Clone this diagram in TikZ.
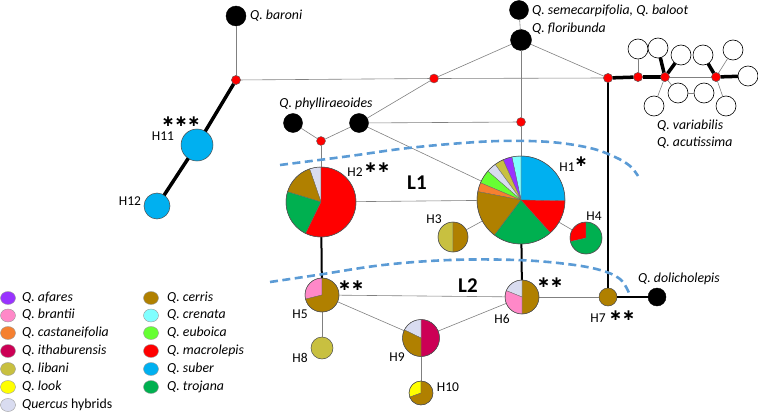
\documentclass[tikz,border=0pt]{standalone}
\usepackage{fontspec}
\setmainfont{Carlito}
\newfontfamily\symf{DejaVu Sans}
\usetikzlibrary{shapes.geometric}
\definecolor{cafares}{RGB}{153,51,255}
\definecolor{cbrantii}{RGB}{255,136,200}
\definecolor{ccast}{RGB}{245,128,48}
\definecolor{citha}{RGB}{204,0,85}
\definecolor{clibani}{RGB}{200,192,64}
\definecolor{clook}{RGB}{255,255,0}
\definecolor{chyb}{RGB}{217,220,240}
\definecolor{ccerris}{RGB}{176,128,0}
\definecolor{ccrenata}{RGB}{128,255,255}
\definecolor{ceuboica}{RGB}{102,255,51}
\definecolor{cmacro}{RGB}{255,0,0}
\definecolor{csuber}{RGB}{0,176,240}
\definecolor{ctrojana}{RGB}{0,176,80}
\definecolor{dashblue}{RGB}{91,155,213}
\newcommand\wedgeof[5]{\filldraw[#5,draw=black!60,line width=0.3pt] (#1.center) -- ++(#2:#4) arc[start angle=#2,end angle=#3,radius=#4] -- cycle;}
\newcommand\rimof[2]{\draw[black!70,line width=0.5pt] (#1.center) circle[radius=#2];}
\begin{document}
\begin{tikzpicture}[x=1pt,y=1pt,
  hap/.style={circle,inner sep=0pt,outer sep=0pt,minimum size=#1},
  blk/.style={circle,fill=black,draw=black,inner sep=0pt,outer sep=0pt,minimum size=20pt},
  rdot/.style={circle,fill=red,draw=black!60,line width=0.4pt,inner sep=0pt,outer sep=0pt,minimum size=9pt},
  wht/.style={circle,fill=white,draw=black,line width=0.6pt,inner sep=0pt,outer sep=0pt,minimum size=20pt},
  one/.style={circle,draw=black!70,line width=0.5pt,inner sep=0pt,outer sep=0pt},
  ln/.style={draw=black!50,line width=0.6pt},
  thk/.style={draw=black,line width=3.5pt},
  med/.style={draw=black,line width=2pt},
  lbl/.style={font=\fontsize{13.8}{16}\selectfont,inner sep=0pt,text height=9.5pt,text depth=3pt},
  ilbl/.style={lbl,font=\fontsize{13.8}{16}\selectfont\itshape},
  hlbl/.style={font=\fontsize{13.5}{15}\selectfont,inner sep=0pt},
  ast/.style={font=\symf\bfseries\fontsize{15.5}{15.5}\selectfont,inner sep=0pt},
  big/.style={font=\fontsize{21}{22}\selectfont\bfseries,inner sep=0pt},
  lg/.style={ellipse,draw=black!40,line width=0.4pt,minimum width=15pt,minimum height=13pt,inner sep=0pt},
  dsh/.style={draw=dashblue,line width=2.6pt,dash pattern=on 8pt off 4.5pt}]
\useasboundingbox (0,0) rectangle (758,-412);

% ---------- nodes ----------
\node[blk] (baroni) at (236,-16) {};
\node[rdot] (rA) at (236,-80) {};
\node[blk,minimum size=19pt] (semec) at (519,-10) {};
\node[blk,minimum size=21pt] (flori) at (521,-40) {};
\node[rdot] (rB) at (434,-78.5) {};
\node[rdot] (rC) at (521,-122) {};
\node[rdot] (rD) at (608,-78) {};
\node[rdot] (rE) at (638,-77) {};
\node[rdot] (rF) at (665,-77) {};
\node[rdot] (rG) at (716,-77) {};
\node[blk,minimum size=19pt] (phy1) at (293,-123) {};
\node[blk,minimum size=19pt] (phy2) at (359,-123) {};
\node[rdot] (rP) at (321,-141) {};
\node[wht] (w1) at (638,-49) {};
\node[wht] (w2) at (658,-48) {};
\node[wht] (w3) at (681,-55) {};
\node[wht] (w4) at (703,-55) {};
\node[wht] (w5) at (733,-50) {};
\node[wht] (w6) at (748,-76) {};
\node[wht] (w7) at (678,-93) {};
\node[wht] (w8) at (704,-93) {};
\node[wht] (w9) at (654,-106) {};
\node[wht] (w10) at (726,-106) {};
\node[hap=88pt] (H1) at (521,-200) {};
\node[hap=70pt] (H2) at (321,-202) {};
\node[hap=30pt] (H3) at (453,-237) {};
\node[hap=32pt] (H4) at (586,-238) {};
\node[hap=34pt] (H5) at (322,-295) {};
\node[hap=34pt] (H6) at (522,-297) {};
\node[one,fill=ccerris,minimum size=18pt] (H7) at (608,-297) {};
\node[blk,minimum size=18pt] (dol) at (657,-297) {};
\node[one,fill=clibani,minimum size=22pt] (H8) at (322,-348) {};
\node[hap=37pt] (H9) at (421,-338) {};
\node[hap=24pt] (H10) at (421,-393) {};
\node[one,fill=csuber,minimum size=32pt] (H11) at (197,-145) {};
\node[one,fill=csuber,minimum size=26pt] (H12) at (157,-206) {};

% ---------- edges ----------
\draw[ln] (baroni) -- (rA);
\draw[ln] (rA) -- (rB);
\draw[ln] (rB) -- (rD);
\draw[ln] (semec) -- (flori);
\draw[ln] (flori) -- (rB);
\draw[ln] (flori) -- (rD);
\draw[ln] (flori) -- (rC);
\draw[ln] (rC) -- (H1);
\draw[ln] (rB) -- (phy2);
\draw[ln] (phy2) -- (rC);
\draw[ln] (phy2) -- (H1);
\draw[ln] (phy1) -- (rP);
\draw[ln] (phy2) -- (rP);
\draw[ln] (rP) -- (H2);
\draw[ln] (H2) -- (H1);
\draw[ln] (H1) -- (H3);
\draw[ln] (H1) -- (H4);
\draw[ln] (H5) -- (H6);
\draw[ln] (H6) -- (H7);
\draw[ln] (H5) -- (H8);
\draw[ln] (H5) -- (H9);
\draw[ln] (H9) -- (H6);
\draw[ln] (H9) -- (H10);
\draw[ln] (rE) -- (w1);
\draw[ln] (rF) -- (w9);
\draw[ln] (rF) -- (w7);
\draw[ln] (w7) -- (w8);
\draw[ln] (rG) -- (w5);
\draw[ln] (rG) -- (w10);
\draw[ln] (rF) -- (rG);
\draw[thk] (rA) -- (H11);
\draw[thk] (H11) -- (H12);
\draw[thk] (rD) -- (rE);
\draw[thk] (rE) -- (rF);
\draw[thk] (rF) -- (w2);
\draw[thk] (rF) -- (w3);
\draw[thk] (rG) -- (w4);
\draw[thk] (rG) -- (w6);
\draw[med] (H2) -- (H5);
\draw[med] (H1) -- (H6);
\draw[med] (rD) -- (H7);
\draw[med] (H7) -- (dol);
% redraw small nodes over thick lines
\node[rdot] at (rD) {};
\node[rdot] at (rE) {};
\node[rdot] at (rF) {};
\node[rdot] at (rG) {};
\node[rdot] at (rA) {};

% ---------- pies ----------
\wedgeof{H1}{-1}{90}{44pt}{csuber}
\wedgeof{H1}{90}{102}{44pt}{ccrenata}
\wedgeof{H1}{102}{114}{44pt}{cafares}
\wedgeof{H1}{114}{126}{44pt}{clibani}
\wedgeof{H1}{126}{139}{44pt}{chyb}
\wedgeof{H1}{139}{157}{44pt}{ceuboica}
\wedgeof{H1}{157}{169}{44pt}{ccast}
\wedgeof{H1}{169}{233}{44pt}{ccerris}
\wedgeof{H1}{233}{312}{44pt}{ctrojana}
\wedgeof{H1}{312}{359}{44pt}{cmacro}
\rimof{H1}{44pt}
\wedgeof{H2}{90}{109}{35pt}{chyb}
\wedgeof{H2}{109}{163}{35pt}{ccerris}
\wedgeof{H2}{163}{244}{35pt}{ctrojana}
\wedgeof{H2}{244}{450}{35pt}{cmacro}
\rimof{H2}{35pt}
\wedgeof{H3}{90}{270}{15pt}{clibani}
\wedgeof{H3}{-90}{90}{15pt}{ccerris}
\rimof{H3}{15pt}
\wedgeof{H4}{90}{193}{16pt}{cmacro}
\wedgeof{H4}{193}{450}{16pt}{ctrojana}
\rimof{H4}{16pt}
\wedgeof{H5}{90}{194}{17pt}{cbrantii}
\wedgeof{H5}{194}{450}{17pt}{ccerris}
\rimof{H5}{17pt}
\wedgeof{H6}{-90}{90}{17pt}{ccerris}
\wedgeof{H6}{90}{158}{17pt}{chyb}
\wedgeof{H6}{158}{270}{17pt}{cbrantii}
\rimof{H6}{17pt}
\wedgeof{H9}{-90}{90}{18.5pt}{citha}
\wedgeof{H9}{90}{154}{18.5pt}{chyb}
\wedgeof{H9}{154}{270}{18.5pt}{ccerris}
\rimof{H9}{18.5pt}
\wedgeof{H10}{90}{200}{12pt}{clook}
\wedgeof{H10}{200}{450}{12pt}{ccerris}
\rimof{H10}{12pt}

% ---------- dashed lineage curves ----------
\draw[dsh] plot[smooth,tension=0.6] coordinates {(280,-165) (350,-156) (400,-149) (450,-144) (500,-141) (550,-142) (590,-148) (615,-157) (630,-166) (638,-176)};
\draw[dsh] plot[smooth,tension=0.6] coordinates {(270,-282) (317,-275) (383,-265) (450,-260) (517,-260) (567,-264) (600,-270) (620,-279) (629,-293)};

% ---------- labels ----------
\node[ilbl,anchor=west] (tbar) at (250,-16) {Q. baroni};
\node[ilbl,anchor=west] (tsem) at (532,-11) {Q. semecarpifolia, Q. baloot};
\node[ilbl,anchor=west] (tflo) at (532,-29) {Q. floribunda};
\node[ilbl] (tphy) at (326,-104) {Q. phylliraeoides};
\node[ilbl,anchor=west] (tvar) at (657,-126) {Q. variabilis};
\node[ilbl,anchor=west] (tacu) at (657,-143) {Q. acutissima};
\node[ilbl,anchor=west] (tdol) at (638,-279) {Q. dolicholepis};

\node[hlbl] (lH1) at (567,-167) {H1};
\node[ast] (aH1) at (581,-162) {∗};
\node[hlbl] (lH2) at (355,-172) {H2};
\node[ast] (aH2) at (377,-168) {∗∗};
\node[hlbl] (lH3) at (434,-219) {H3};
\node[hlbl] (lH4) at (594,-216) {H4};
\node[hlbl] (lH5) at (300,-314) {H5};
\node[ast] (aH5) at (351,-286) {∗∗};
\node[hlbl] (lH6) at (502,-319) {H6};
\node[ast] (aH6) at (550,-283) {∗∗};
\node[hlbl] (lH7) at (598,-318) {H7};
\node[ast] (aH7) at (622,-316) {∗∗};
\node[hlbl] (lH8) at (300,-358) {H8};
\node[hlbl] (lH9) at (397,-357) {H9};
\node[hlbl] (lH10) at (448,-387) {H10};
\node[hlbl] (lH11) at (163,-136) {H11};
\node[ast] (aH11) at (181,-122) {∗∗∗};
\node[hlbl] (lH12) at (130,-201) {H12};
\node[big] (L1) at (417,-183) {L1};
\node[big] (L2) at (468,-286) {L2};

% ---------- legend ----------
\node[lg,fill=cafares] (k1) at (8,-298) {};
\node[lg,fill=cbrantii] (k2) at (8,-315.5) {};
\node[lg,fill=ccast] (k3) at (8,-333) {};
\node[lg,fill=citha] (k4) at (8,-351) {};
\node[lg,fill=clibani] (k5) at (8,-369) {};
\node[lg,fill=clook] (k6) at (8,-387) {};
\node[lg,fill=chyb] (k7) at (8,-405) {};
\node[ilbl,anchor=west] (t1) at (22,-298) {Q. afares};
\node[ilbl,anchor=west] (t2) at (22,-315.5) {Q. brantii};
\node[ilbl,anchor=west] (t3) at (22,-333) {Q. castaneifolia};
\node[ilbl,anchor=west] (t4) at (22,-351) {Q. ithaburensis};
\node[ilbl,anchor=west] (t5) at (22,-369) {Q. libani};
\node[ilbl,anchor=west] (t6) at (22,-387) {Q. look};
\node[lbl,anchor=west] (t7) at (22,-405) {\textit{Quercus} hybrids};
\node[lg,fill=ccerris] (k8) at (151,-298) {};
\node[lg,fill=ccrenata] (k9) at (151,-315.5) {};
\node[lg,fill=ceuboica] (k10) at (151,-333) {};
\node[lg,fill=cmacro] (k11) at (151,-351) {};
\node[lg,fill=csuber] (k12) at (151,-369) {};
\node[lg,fill=ctrojana] (k13) at (151,-387) {};
\node[ilbl,anchor=west] (t8) at (167,-298) {Q. cerris};
\node[ilbl,anchor=west] (t9) at (167,-315.5) {Q. crenata};
\node[ilbl,anchor=west] (t10) at (167,-333) {Q. euboica};
\node[ilbl,anchor=west] (t11) at (167,-351) {Q. macrolepis};
\node[ilbl,anchor=west] (t12) at (167,-369) {Q. suber};
\node[ilbl,anchor=west] (t13) at (167,-387) {Q. trojana};
\end{tikzpicture}
\end{document}
